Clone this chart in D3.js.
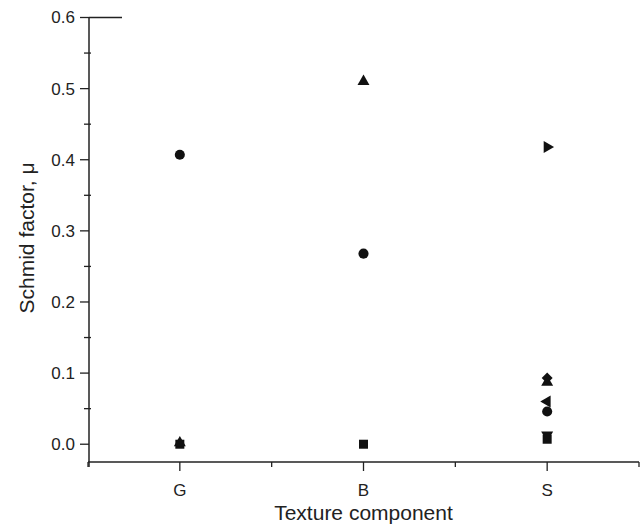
<!DOCTYPE html>
<html>
<head>
<meta charset="utf-8">
<script src="https://cdn.jsdelivr.net/npm/d3@7"></script>
<style>
  body { margin: 0; background: #fff; }
  text { font-family: "Liberation Sans", Arial, sans-serif; fill: #222; }
</style>
</head>
<body>
<div id="chart"></div>
<script>
// texture components, placed at 1, 3, 5 on a 0..6 axis
const categories = ["G", "B", "S"];
const catPos = [1, 3, 5];
const yTicks = [0.0, 0.1, 0.2, 0.3, 0.4, 0.5, 0.6];

// one series per marker shape (values for G, B, S; null = not shown)
const squareVals   = [0.000, 0.000, 0.007];
const circleVals   = [0.407, 0.268, 0.046];
const triUpVals    = [0.002, 0.510, 0.087];
const triDownVals  = [null, null, 0.013];
const diamondVals  = [null, null, 0.093];
const triLeftVals  = [null, null, 0.060];
const triRightVals = [null, null, 0.418];

const width = 640, height = 528;
const margin = {top: 17, right: 1, bottom: 66, left: 89};

const svg = d3.select("#chart").append("svg")
    .attr("width", width)
    .attr("height", height);

const x = d3.scaleLinear()
    .domain([0, 6])
    .range([margin.left - 1, width - margin.right]);
const y = d3.scaleLinear()
    .domain([-0.025, 0.6])
    .range([height - margin.bottom, margin.top + 0.5]);

// x axis
const xAxis = svg.append("g")
    .attr("transform", "translate(0," + (height - margin.bottom) + ")");
xAxis.append("line")
    .attr("x1", x(0)).attr("x2", x(6))
    .attr("stroke", "#222").attr("stroke-width", 1.5);
xAxis.selectAll(".minor")
    .data([0, 2, 4, 6]).enter().append("line")
    .attr("x1", d => x(d)).attr("x2", d => x(d))
    .attr("y1", 0).attr("y2", 5)
    .attr("stroke", "#222").attr("stroke-width", 1.3);
xAxis.selectAll(".major")
    .data(catPos).enter().append("line")
    .attr("x1", d => x(d)).attr("x2", d => x(d))
    .attr("y1", 0).attr("y2", 9)
    .attr("stroke", "#222").attr("stroke-width", 1.3);
xAxis.selectAll(".lab")
    .data(categories).enter().append("text")
    .attr("x", (d, i) => x(catPos[i]))
    .attr("y", 34)
    .attr("text-anchor", "middle")
    .attr("font-size", 17)
    .text(d => d);

// y axis
const yAxis = svg.append("g")
    .attr("transform", "translate(" + margin.left + ",0)");
yAxis.append("line")
    .attr("y1", y(0.6)).attr("y2", height - margin.bottom + 5)
    .attr("stroke", "#222").attr("stroke-width", 1.5);
yAxis.selectAll(".minor")
    .data(d3.range(0.05, 0.6, 0.1)).enter().append("line")
    .attr("x1", -5).attr("x2", 2)
    .attr("y1", d => y(d)).attr("y2", d => y(d))
    .attr("stroke", "#222").attr("stroke-width", 1.3);
yAxis.selectAll(".major")
    .data(yTicks).enter().append("line")
    .attr("x1", -9).attr("x2", 0)
    .attr("y1", d => y(d)).attr("y2", d => y(d))
    .attr("stroke", "#222").attr("stroke-width", 1.3);
yAxis.selectAll(".lab")
    .data(yTicks).enter().append("text")
    .attr("x", -14)
    .attr("y", d => y(d))
    .attr("dy", "0.35em")
    .attr("text-anchor", "end")
    .attr("font-size", 17)
    .text(d => d.toFixed(1));
// short line at the top of the y axis
yAxis.append("line")
    .attr("x1", 0).attr("x2", 33)
    .attr("y1", y(0.6)).attr("y2", y(0.6))
    .attr("stroke", "#222").attr("stroke-width", 1.3);

// axis titles
svg.append("text")
    .attr("x", (x(0) + x(6)) / 2)
    .attr("y", 520)
    .attr("text-anchor", "middle")
    .attr("font-size", 21)
    .text("Texture component");
svg.append("text")
    .attr("transform", "translate(34," + y(0.29) + ") rotate(-90)")
    .attr("text-anchor", "middle")
    .attr("font-size", 21)
    .text("Schmid factor, \u03bc");

// markers
const series = [
    {vals: squareVals,   sym: d3.symbolSquare,   size: 81,  rot: 0},
    {vals: circleVals,   sym: d3.symbolCircle,   size: 80,  rot: 0},
    {vals: triUpVals,    sym: d3.symbolTriangle, size: 62,  rot: 0},
    {vals: triDownVals,  sym: d3.symbolTriangle, size: 62,  rot: 180},
    {vals: diamondVals,  sym: d3.symbolSquare,   size: 60,  rot: 45},
    {vals: triLeftVals,  sym: d3.symbolTriangle, size: 62,  rot: -90},
    {vals: triRightVals, sym: d3.symbolTriangle, size: 62,  rot: 90}
];

const marks = svg.append("g");
series.forEach(s => {
    const pts = s.vals.map((v, i) => ({v: v, p: catPos[i]})).filter(d => d.v !== null);
    marks.selectAll(null)
        .data(pts).enter().append("path")
        .attr("d", d3.symbol().type(s.sym).size(s.size))
        .attr("transform", d => "translate(" + x(d.p) + "," + y(d.v) + ") rotate(" + s.rot + ")")
        .attr("fill", "#111");
});
</script>
</body>
</html>
